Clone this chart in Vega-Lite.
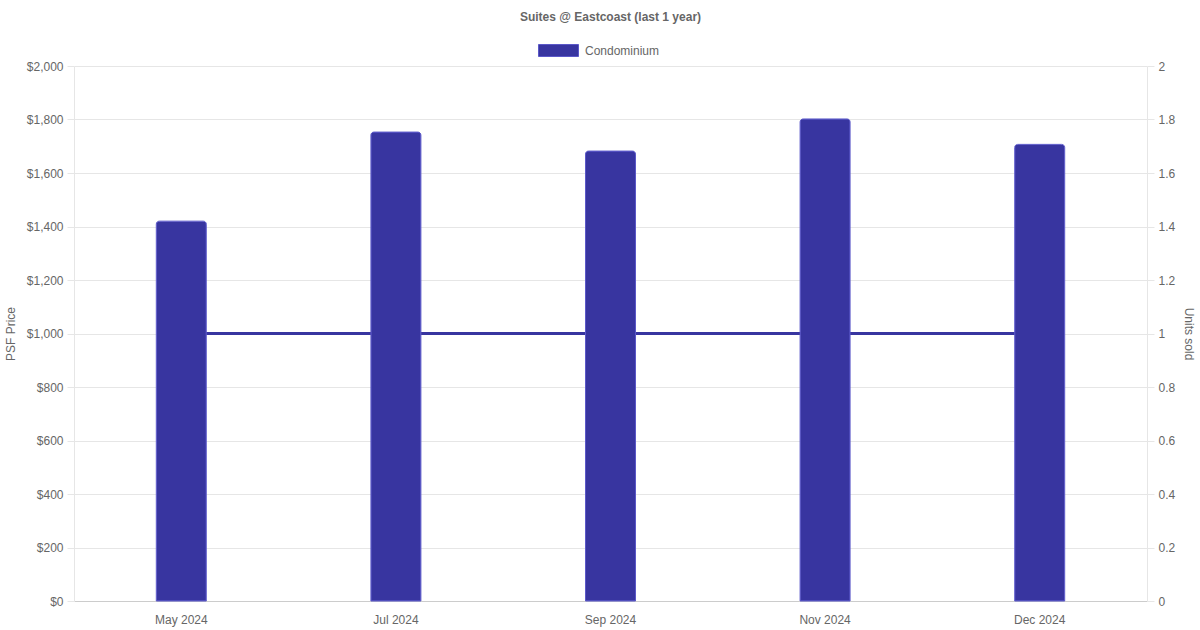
{
  "$schema": "https://vega.github.io/schema/vega-lite/v6.json",
  "width": 1073,
  "height": 535,
  "autosize": {"type": "none"},
  "padding": {"left": 74, "top": 66, "right": 53, "bottom": 29},
  "background": "white",
  "title": {
    "text": "Suites @ Eastcoast (last 1 year)",
    "anchor": "middle",
    "frame": "group",
    "font": "Liberation Sans",
    "fontSize": 12,
    "fontWeight": "bold",
    "color": "#666666",
    "offset": 16
  },
  "config": {
    "view": {"stroke": null},
    "font": "Liberation Sans",
    "axis": {
      "labelFont": "Liberation Sans",
      "labelFontSize": 12,
      "labelColor": "#666666",
      "titleFont": "Liberation Sans",
      "titleFontSize": 12,
      "titleFontWeight": "normal",
      "titleColor": "#666666",
      "gridColor": "#e6e6e6",
      "tickColor": "#e6e6e6",
      "domainColor": "#e6e6e6"
    }
  },
  "data": {
    "values": [
      {"month": "May 2024", "psf": 1420, "units": 1, "series": "Condominium"},
      {"month": "Jul 2024", "psf": 1753, "units": 1, "series": "Condominium"},
      {"month": "Sep 2024", "psf": 1682, "units": 1, "series": "Condominium"},
      {"month": "Nov 2024", "psf": 1802, "units": 1, "series": "Condominium"},
      {"month": "Dec 2024", "psf": 1707, "units": 1, "series": "Condominium"}
    ]
  },
  "encoding": {
    "x": {
      "field": "month",
      "type": "ordinal",
      "sort": null,
      "scale": {"paddingInner": 0, "paddingOuter": 0},
      "axis": {
        "title": null,
        "labelAngle": 0,
        "ticks": false,
        "grid": false,
        "domainColor": "#cccccc",
        "labelPadding": 13
      }
    }
  },
  "layer": [
    {
      "mark": {"type": "line", "color": "#3835a0", "strokeWidth": 3},
      "encoding": {
        "y": {
          "field": "units",
          "type": "quantitative",
          "scale": {"domain": [0, 2]},
          "axis": {
            "orient": "right",
            "title": "Units sold",
            "titlePadding": 7,
            "values": [0, 0.2, 0.4, 0.6, 0.8, 1, 1.2, 1.4, 1.6, 1.8, 2],
            "format": "~g",
            "grid": false,
            "tickSize": 7,
            "labelPadding": 4
          }
        }
      }
    },
    {
      "mark": {
        "type": "bar",
        "width": 50,
        "stroke": "#5b58c8",
        "strokeWidth": 1,
        "cornerRadiusTopLeft": 3,
        "cornerRadiusTopRight": 3
      },
      "encoding": {
        "y": {
          "field": "psf",
          "type": "quantitative",
          "scale": {"domain": [0, 2000]},
          "axis": {
            "orient": "left",
            "title": "PSF Price",
            "titlePadding": 9,
            "values": [0, 200, 400, 600, 800, 1000, 1200, 1400, 1600, 1800, 2000],
            "format": "$,.0f",
            "grid": true,
            "tickSize": 7,
            "labelPadding": 4
          }
        },
        "color": {
          "field": "series",
          "type": "nominal",
          "scale": {"range": ["#3835a0"]},
          "legend": {
            "title": null,
            "orient": "none",
            "legendX": 474,
            "legendY": -26,
            "padding": 0,
            "symbolType": "M-2,-0.6L2,-0.6L2,0.6L-2,0.6Z",
            "symbolSize": 400,
            "symbolStrokeColor": "#5b58c8",
            "symbolStrokeWidth": 1,
            "symbolOpacity": 1,
            "labelOffset": 16,
            "labelFont": "Liberation Sans",
            "labelFontSize": 12,
            "labelColor": "#666666"
          }
        }
      }
    }
  ],
  "resolve": {"scale": {"y": "independent"}}
}
